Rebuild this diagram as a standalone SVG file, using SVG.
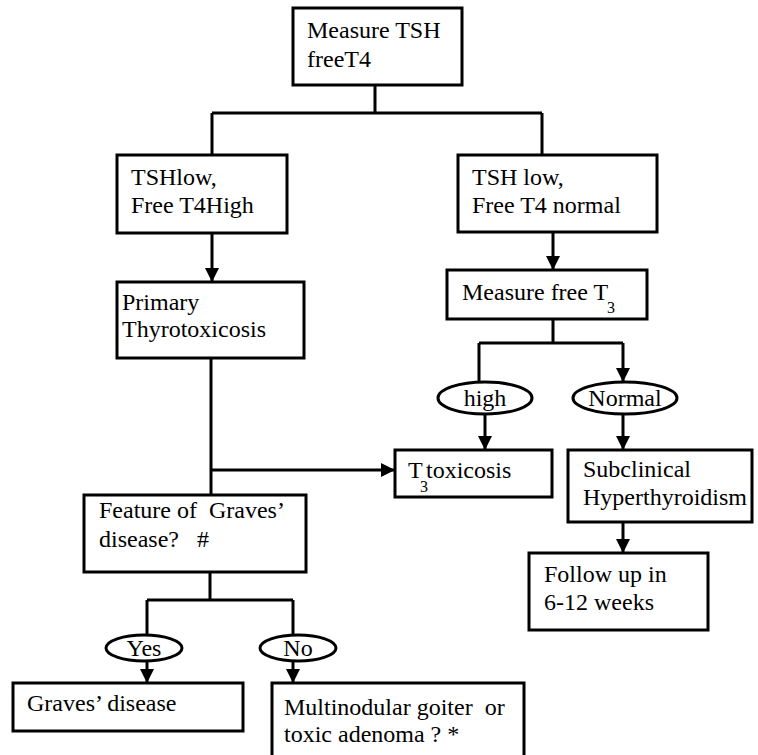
<svg xmlns="http://www.w3.org/2000/svg" width="758" height="755" viewBox="0 0 758 755">
<style>
.box{fill:#fff;stroke:#000;stroke-width:3}
.ell{fill:#fff;stroke:#000;stroke-width:3}
.ln{fill:none;stroke:#000;stroke-width:3}
text{font-family:"Liberation Serif",Tinos,"Times New Roman","DejaVu Serif",serif;font-size:24px;fill:#000}
.sub{font-size:16px}
.c{text-anchor:middle}
</style>
<defs>
<marker id="ah" markerUnits="userSpaceOnUse" markerWidth="14" markerHeight="16" refX="14" refY="7" orient="auto">
<path d="M0,0 L14,7 L0,14 Z" fill="#000"/>
</marker>
</defs>
<g id="connectors">
<path class="ln" d="M375,85 V113 M212,113 H542 M212,113 V155 M542,113 V155"/>
<path class="ln" d="M212,233 V282" marker-end="url(#ah)"/>
<path class="ln" d="M553,232 V270" marker-end="url(#ah)"/>
<path class="ln" d="M553,319 V343 M479,343 H623 M479,343 V382"/>
<path class="ln" d="M623,343 V382" marker-end="url(#ah)"/>
<path class="ln" d="M485,414 V450" marker-end="url(#ah)"/>
<path class="ln" d="M623,414 V450" marker-end="url(#ah)"/>
<path class="ln" d="M623,522 V553" marker-end="url(#ah)"/>
<path class="ln" d="M211,358 V495"/>
<path class="ln" d="M211,470 H395" marker-end="url(#ah)"/>
<path class="ln" d="M210,572 V600 M147,600 H293 M147,600 V635 M293,600 V635"/>
<path class="ln" d="M147,661 V683" marker-end="url(#ah)"/>
<path class="ln" d="M293,661 V683" marker-end="url(#ah)"/>
</g>
<g id="measure-tsh">
<rect class="box" x="293" y="8" width="169" height="77"/>
<text x="307" y="38">Measure TSH</text>
<text x="307" y="67">freeT4</text>
</g>
<g id="tsh-low-t4-high">
<rect class="box" x="117" y="155" width="170" height="78"/>
<text x="131" y="185">TSHlow,</text>
<text x="131" y="213">Free T4High</text>
</g>
<g id="tsh-low-t4-normal">
<rect class="box" x="458" y="155" width="199" height="77"/>
<text x="472" y="185">TSH low,</text>
<text x="472" y="213">Free T4 normal</text>
</g>
<g id="primary">
<rect class="box" x="117" y="282" width="187" height="76"/>
<text x="122" y="310">Primary</text>
<text x="122" y="337">Thyrotoxicosis</text>
</g>
<g id="measure-t3">
<rect class="box" x="447" y="270" width="200" height="49"/>
<text x="462" y="300">Measure free T</text>
<text class="sub" x="607" y="313">3</text>
</g>
<g id="high">
<ellipse class="ell" cx="485" cy="398" rx="47" ry="16"/>
<text class="c" x="485" y="406">high</text>
</g>
<g id="normal">
<ellipse class="ell" cx="625" cy="398" rx="52" ry="16"/>
<text class="c" x="625" y="406">Normal</text>
</g>
<g id="t3-toxicosis">
<rect class="box" x="395" y="450" width="157" height="47"/>
<text x="408" y="478">T</text>
<text class="sub" x="420" y="492">3</text>
<text x="426" y="478">toxicosis</text>
</g>
<g id="subclinical">
<rect class="box" x="568" y="450" width="184" height="72"/>
<text x="583" y="477">Subclinical</text>
<text x="583" y="505">Hyperthyroidism</text>
</g>
<g id="follow-up">
<rect class="box" x="529" y="553" width="179" height="77"/>
<text x="544" y="582">Follow up in</text>
<text x="544" y="610">6-12 weeks</text>
</g>
<g id="feature-graves">
<rect class="box" x="84" y="495" width="222" height="77"/>
<text x="99" y="518" xml:space="preserve">Feature of  Graves’</text>
<text x="99" y="547" xml:space="preserve">disease?   #</text>
</g>
<g id="yes">
<ellipse class="ell" cx="144" cy="648" rx="38" ry="13"/>
<text class="c" x="144" y="656">Yes</text>
</g>
<g id="no">
<ellipse class="ell" cx="298" cy="648" rx="38" ry="13"/>
<text class="c" x="298" y="656">No</text>
</g>
<g id="graves-disease">
<rect class="box" x="13" y="683" width="230" height="48"/>
<text x="27" y="711">Graves’ disease</text>
</g>
<g id="multinodular">
<rect class="box" x="272" y="683" width="252" height="80"/>
<text x="284" y="715" xml:space="preserve">Multinodular goiter  or</text>
<text x="284" y="742">toxic adenoma ? *</text>
</g>
</svg>
